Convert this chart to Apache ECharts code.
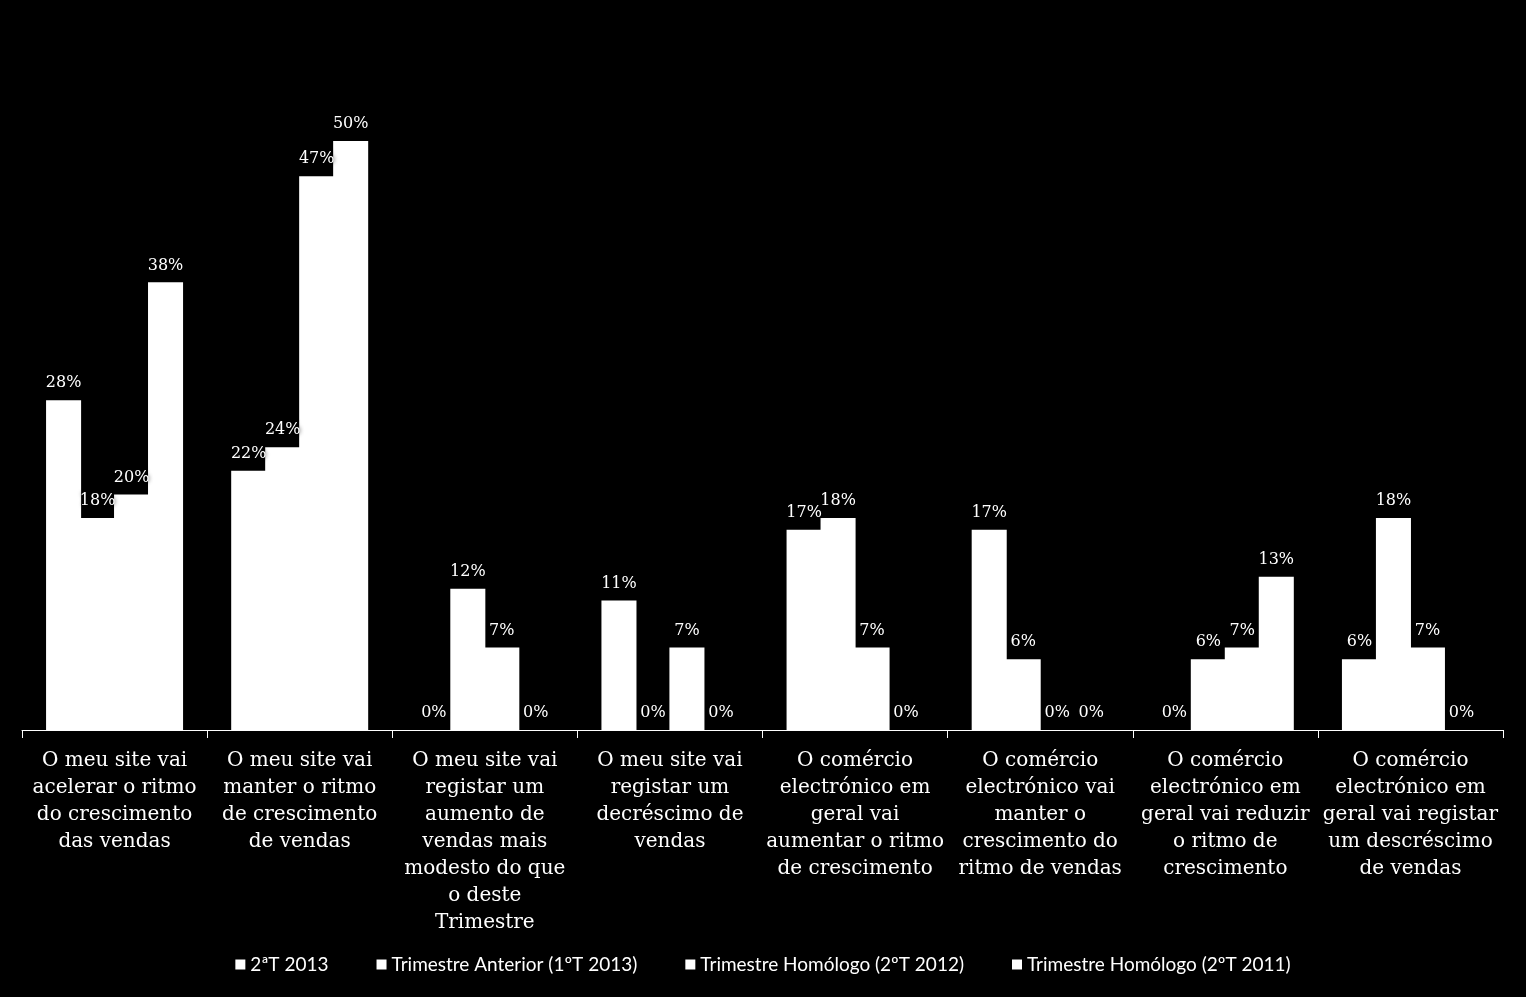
<!DOCTYPE html>
<html><head><meta charset="utf-8">
<script src="https://cdn.jsdelivr.net/npm/echarts@6/dist/echarts.min.js"></script>
<style>html,body{margin:0;padding:0;background:#000}#c{width:1526px;height:997px}</style>
</head><body><div id="c"></div>
<script>
const categories = [
  "O meu site vai\nacelerar o ritmo\ndo crescimento\ndas vendas",
  "O meu site vai\nmanter o ritmo\nde crescimento\nde vendas",
  "O meu site vai\nregistar um\naumento de\nvendas mais\nmodesto do que\no deste\nTrimestre",
  "O meu site vai\nregistar um\ndecréscimo de\nvendas",
  "O comércio\nelectrónico em\ngeral vai\naumentar o ritmo\nde crescimento",
  "O comércio\nelectrónico vai\nmanter o\ncrescimento do\nritmo de vendas",
  "O comércio\nelectrónico em\ngeral vai reduzir\no ritmo de\ncrescimento",
  "O comércio\nelectrónico em\ngeral vai registar\num descréscimo\nde vendas"
];
const seriesNames = ["2ªT 2013", "Trimestre Anterior (1ºT 2013)", "Trimestre Homólogo (2ºT 2012)", "Trimestre Homólogo (2ºT 2011)"];
const s2T2013 = [28, 22, 0, 11, 17, 17, 0, 6];
const sAnterior = [18, 24, 12, 0, 18, 6, 6, 18];
const sHom2012 = [20, 47, 7, 7, 7, 0, 7, 7];
const sHom2011 = [38, 50, 0, 0, 0, 0, 13, 0];
const allSeries = [s2T2013, sAnterior, sHom2012, sHom2011];

const chart = echarts.init(document.getElementById('c'));
chart.setOption({
  backgroundColor: '#000',
  animation: false,
  grid: { left: 22, right: 23, top: 141, bottom: 267, containLabel: false },
  legend: {
    bottom: 18, left: 'center', itemWidth: 10, itemHeight: 10, itemGap: 48,
    icon: 'rect',
    textStyle: { color: '#fff', fontFamily: 'Lato', fontSize: 19 },
    data: seriesNames
  },
  xAxis: {
    type: 'category', data: categories,
    axisLine: { lineStyle: { color: '#fff', width: 1 } },
    axisTick: { show: true, length: 8, lineStyle: { color: '#fff' } },
    axisLabel: { interval: 0, color: '#fff', fontFamily: 'DejaVu Serif', fontSize: 20, lineHeight: 27, margin: 17 }
  },
  yAxis: { type: 'value', min: 0, max: 50, show: false, splitLine: { show: false } },
  series: allSeries.map((d, i) => ({
    name: seriesNames[i], type: 'bar', data: d,
    barGap: '-3%', barCategoryGap: '26%',
    itemStyle: { color: '#fff' },
    label: {
      show: true, position: 'top', distance: 9, color: '#fff',
      fontFamily: 'DejaVu Serif', fontSize: 16,
      textShadowColor: '#000', textShadowBlur: 4,
      formatter: p => Math.round(p.value) + '%'
    }
  }))
});
</script></body></html>
